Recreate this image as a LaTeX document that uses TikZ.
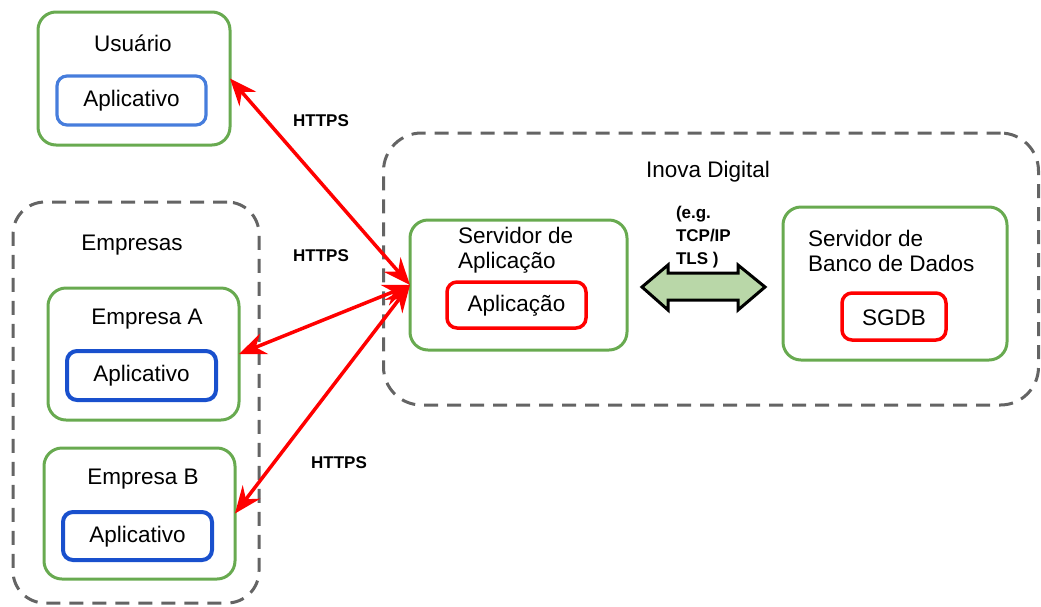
\documentclass[tikz,border=0pt]{standalone}
\usepackage{fontspec}
\setmainfont{Liberation Sans}
\usetikzlibrary{arrows.meta}
\definecolor{grn}{RGB}{104,170,80}
\definecolor{dgray}{RGB}{100,100,100}
\definecolor{lblue}{RGB}{70,125,220}
\definecolor{dblue}{RGB}{25,80,205}
\definecolor{rd}{RGB}{255,0,0}
\definecolor{arrfill}{RGB}{185,215,168}
\tikzset{
  every node/.style={inner sep=0pt, outer sep=0pt},
  box/.style={draw, rectangle, rounded corners=#1},
  greenbox/.style={box=18pt, draw=grn, line width=3pt},
  dashbox/.style={box=32pt, draw=dgray, line width=3pt, dash pattern=on 14pt off 9pt},
  appbox/.style={box=10pt, draw=lblue, line width=3.2pt},
  appboxd/.style={box=10pt, draw=dblue, line width=4pt},
  redbox/.style={box=10pt, draw=rd, line width=3.5pt},
  lbl/.style={font=\fontsize{22.5}{25}\selectfont, text=black},
  small/.style={font=\fontsize{17}{23}\selectfont\bfseries, text=black},
  link/.style={draw=rd, line width=3.5pt, {Stealth[length=27pt,width=22pt,inset=9pt]}-{Stealth[length=27pt,width=22pt,inset=9pt]}},
}
\begin{document}
\begin{tikzpicture}[x=1pt,y=-1pt]
\useasboundingbox (0,0) rectangle (1041,606);
% containers
\node[dashbox, minimum width=246pt, minimum height=401pt] (emps) at (136,402.5) {};
\node[dashbox, box=38pt, minimum width=655pt, minimum height=272pt] (inova) at (711,269) {};
% user
\node[greenbox, minimum width=192pt, minimum height=133pt] (usr) at (134,78.5) {};
\node[appbox, minimum width=149pt, minimum height=49pt] (appu) at (131.5,100.5) {};
\node[lbl] (usrt) at (133,43) {Usuário};
\node[lbl] (apput) at (131.5,101) {Aplicativo};
% Empresas
\node[lbl] (empst) at (132,245) {Empresas};
\node[greenbox, minimum width=191pt, minimum height=132pt] (empA) at (143.5,354) {};
\node[appboxd, minimum width=149pt, minimum height=49pt] (appA) at (141.5,375.5) {};
\node[lbl] (empAt) at (147,319) {Empresa A};
\node[lbl] (appAt) at (141.5,376) {Aplicativo};
\node[greenbox, minimum width=191pt, minimum height=131pt] (empB) at (139.5,513.5) {};
\node[appboxd, minimum width=149pt, minimum height=48pt] (appB) at (137.5,536) {};
\node[lbl] (empBt) at (143,479) {Empresa B};
\node[lbl] (appBt) at (137.5,537) {Aplicativo};
% Inova
\node[lbl] (inovat) at (708,172) {Inova Digital};
\node[greenbox, minimum width=217pt, minimum height=130pt] (sapp) at (518.5,285) {};
\node[lbl, align=left, anchor=west] (sappt) at (458,250) {Servidor de\\Aplicação};
\node[redbox, minimum width=139pt, minimum height=46pt] (apl) at (516.5,305) {};
\node[lbl] (aplt) at (516.5,306) {Aplicação};
\node[greenbox, minimum width=224pt, minimum height=153pt] (sbd) at (895,283.5) {};
\node[lbl, align=left, anchor=west] (sbdt) at (808,251) {Servidor de\\Banco de Dados};
\node[redbox, minimum width=104pt, minimum height=47pt] (sgdb) at (894,316.5) {};
\node[lbl] (sgdbt) at (894,318) {SGDB};
% protocol arrow
\draw[draw=black, line width=3pt, fill=arrfill, line join=miter]
  (642,287) -- (668,265) -- (668,273) -- (738,273) -- (738,265) -- (765,287)
  -- (738,310) -- (738,300) -- (668,300) -- (668,310) -- cycle;
\node[small, align=left, anchor=west] (proto) at (676,237) {(e.g.\\TCP/IP\\TLS )};
% links
\draw[link] (usr.east) -- (sapp.west);
\draw[link] (empA.east) -- (sapp.west);
\draw[link] (empB.east) -- (sapp.west);
\node[small] (h1) at (321,121) {HTTPS};
\node[small] (h2) at (321,256) {HTTPS};
\node[small] (h3) at (339,463) {HTTPS};
\end{tikzpicture}
\end{document}
